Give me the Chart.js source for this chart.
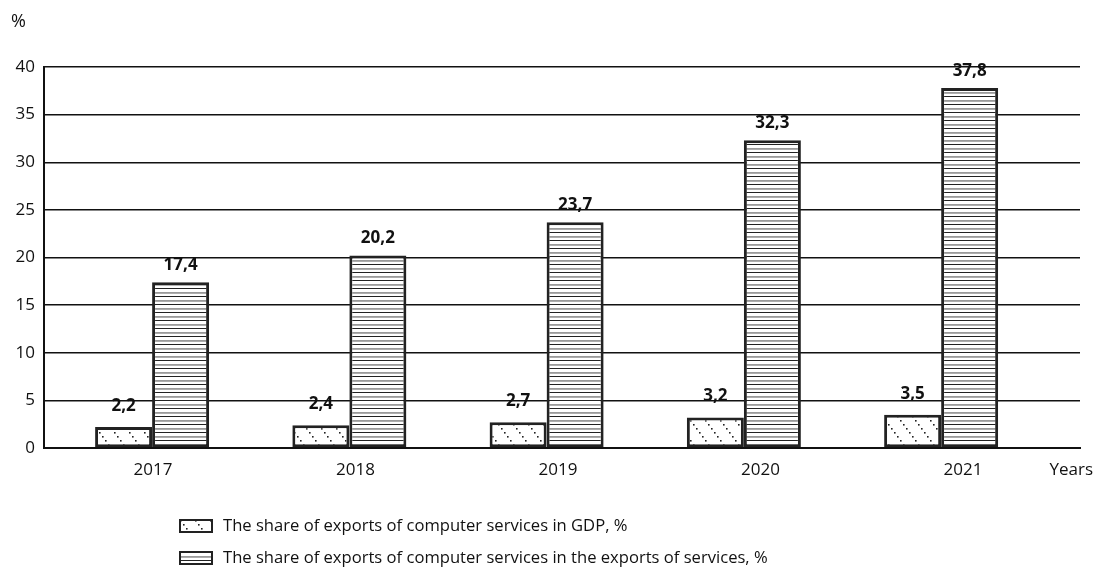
<!DOCTYPE html>
<html>
<head>
<meta charset="utf-8">
<script src="https://cdn.jsdelivr.net/npm/chart.js@4"></script>
<style>
  html, body { margin: 0; padding: 0; background: #fff; }
  #wrap { width: 1095px; height: 578px; position: relative; }
</style>
</head>
<body>
<div id="wrap"><canvas id="chart" width="1095" height="578"></canvas></div>
<script>
const years = ['2017', '2018', '2019', '2020', '2021'];
const gdpShare = [2.2, 2.4, 2.7, 3.2, 3.5];
const servicesShare = [17.4, 20.2, 23.7, 32.3, 37.8];
const seriesNames = [
    'The share of exports of computer services in GDP, %',
    'The share of exports of computer services in the exports of services, %'
];
const yTicks = [0, 5, 10, 15, 20, 25, 30, 35, 40];

const FONT = "'Open Sans', 'Noto Sans', sans-serif";
const INK = '#111';

// dotted diagonal hatch
const dotPattern = () => {
    const c = document.createElement('canvas');
    c.width = 15; c.height = 20;
    const ctx = c.getContext('2d');
    ctx.fillStyle = '#fff';
    ctx.fillRect(0, 0, 15, 20);
    ctx.fillStyle = '#222';
    for (let k = 0; k < 5; k++) ctx.fillRect(k * 3, k * 4, 1.6, 1.6);
    return ctx.createPattern(c, 'repeat');
}

// alternating dark / grey horizontal stripes
const stripePattern = () => {
    const c = document.createElement('canvas');
    c.width = 8; c.height = 8;
    const ctx = c.getContext('2d');
    ctx.fillStyle = '#fff';
    ctx.fillRect(0, 0, 8, 8);
    ctx.fillStyle = '#222';
    ctx.fillRect(0, 0, 8, 1);
    ctx.fillStyle = '#9a9a9a';
    ctx.fillRect(0, 4, 8, 1.8);
    return ctx.createPattern(c, 'repeat');
}

const fills = [dotPattern(), stripePattern()];
const labelLift = [21, 17];

const toPoints = values => values.map((v, i) => ({ x: i, y: v }));
const fmt = v => v.toFixed(1).replace('.', ',');
const yearTicks = s => { s.ticks = years.map((_, i) => ({ value: i })); };

const valueLabels = {
    id: 'valueLabels',
    afterDatasetsDraw(chart) {
        const ctx = chart.ctx;
        ctx.save();
        ctx.font = `bold 17px ${FONT}`;
        ctx.fillStyle = INK;
        ctx.textAlign = 'center';
        ctx.textBaseline = 'middle';
        chart.data.datasets.forEach((ds, di) => {
            chart.getDatasetMeta(di).data.forEach((bar, i) => {
                ctx.fillText(fmt(ds.data[i].y), bar.x, bar.y - labelLift[di]);
            });
        });
        ctx.restore();
    }
};

const extras = {
    id: 'extras',
    afterDraw(chart) {
        const ctx = chart.ctx;
        const area = chart.chartArea;
        ctx.save();
        ctx.fillStyle = INK;
        ctx.font = `18px ${FONT}`;
        ctx.textBaseline = 'middle';
        ctx.textAlign = 'left';
        ctx.fillText('%', 11, 22);
        ctx.font = `17px ${FONT}`;
        ctx.textAlign = 'right';
        ctx.fillText('Years', 1093, area.bottom + 22);

        // legend
        ctx.textAlign = 'left';
        ctx.font = `16.6px ${FONT}`;
        seriesNames.forEach((name, i) => {
            const y = 526 + i * 32;
            ctx.fillStyle = fills[i];
            ctx.fillRect(180, y - 6, 32, 12);
            ctx.strokeStyle = '#222';
            ctx.lineWidth = 2;
            ctx.strokeRect(180, y - 6, 32, 12);
            ctx.fillStyle = INK;
            ctx.fillText(name, 223, y);
        });
        ctx.restore();
    }
};

new Chart(document.getElementById('chart'), {
    type: 'bar',
    data: {
        datasets: [
            { label: seriesNames[0], data: toPoints(gdpShare), backgroundColor: fills[0] },
            { label: seriesNames[1], data: toPoints(servicesShare), backgroundColor: fills[1] }
        ]
    },
    options: {
        responsive: false,
        animation: false,
        events: [],
        layout: { padding: { top: 67, right: 15, left: 0, bottom: 0 } },
        datasets: {
            bar: {
                borderColor: '#222',
                borderWidth: 3,
                borderSkipped: false,
                categoryPercentage: 0.578,
                barPercentage: 1
            }
        },
        plugins: {
            legend: { display: false },
            tooltip: { enabled: false }
        },
        scales: {
            // bar positions
            x: {
                type: 'linear',
                offset: false,
                bounds: 'data',
                min: -0.548,
                max: 4.704,
                afterBuildTicks: yearTicks,
                afterFit: s => { s.height = 0; },
                grid: { display: false, drawTicks: false },
                border: { display: true, color: '#111', width: 2 },
                ticks: { display: false }
            },
            // year labels
            years: {
                type: 'linear',
                axis: 'x',
                position: 'bottom',
                offset: false,
                bounds: 'data',
                min: -0.538,
                max: 4.578,
                afterBuildTicks: yearTicks,
                afterFit: s => { s.height = 130; },
                grid: { display: false, drawTicks: false },
                border: { display: false },
                ticks: {
                    color: INK,
                    font: { family: FONT, size: 17 },
                    padding: 12,
                    maxRotation: 0,
                    callback: v => years[v] ?? ''
                }
            },
            y: {
                min: 0,
                max: 40,
                afterBuildTicks: s => { s.ticks = yTicks.map(v => ({ value: v })); },
                afterFit: s => { s.width = 44; },
                grid: { color: '#111', lineWidth: 1.5, drawTicks: false },
                border: { display: true, color: '#111', width: 2 },
                ticks: {
                    color: INK,
                    font: { family: FONT, size: 17 },
                    padding: 9
                }
            }
        }
    },
    plugins: [valueLabels, extras]
});
</script>
</body>
</html>
